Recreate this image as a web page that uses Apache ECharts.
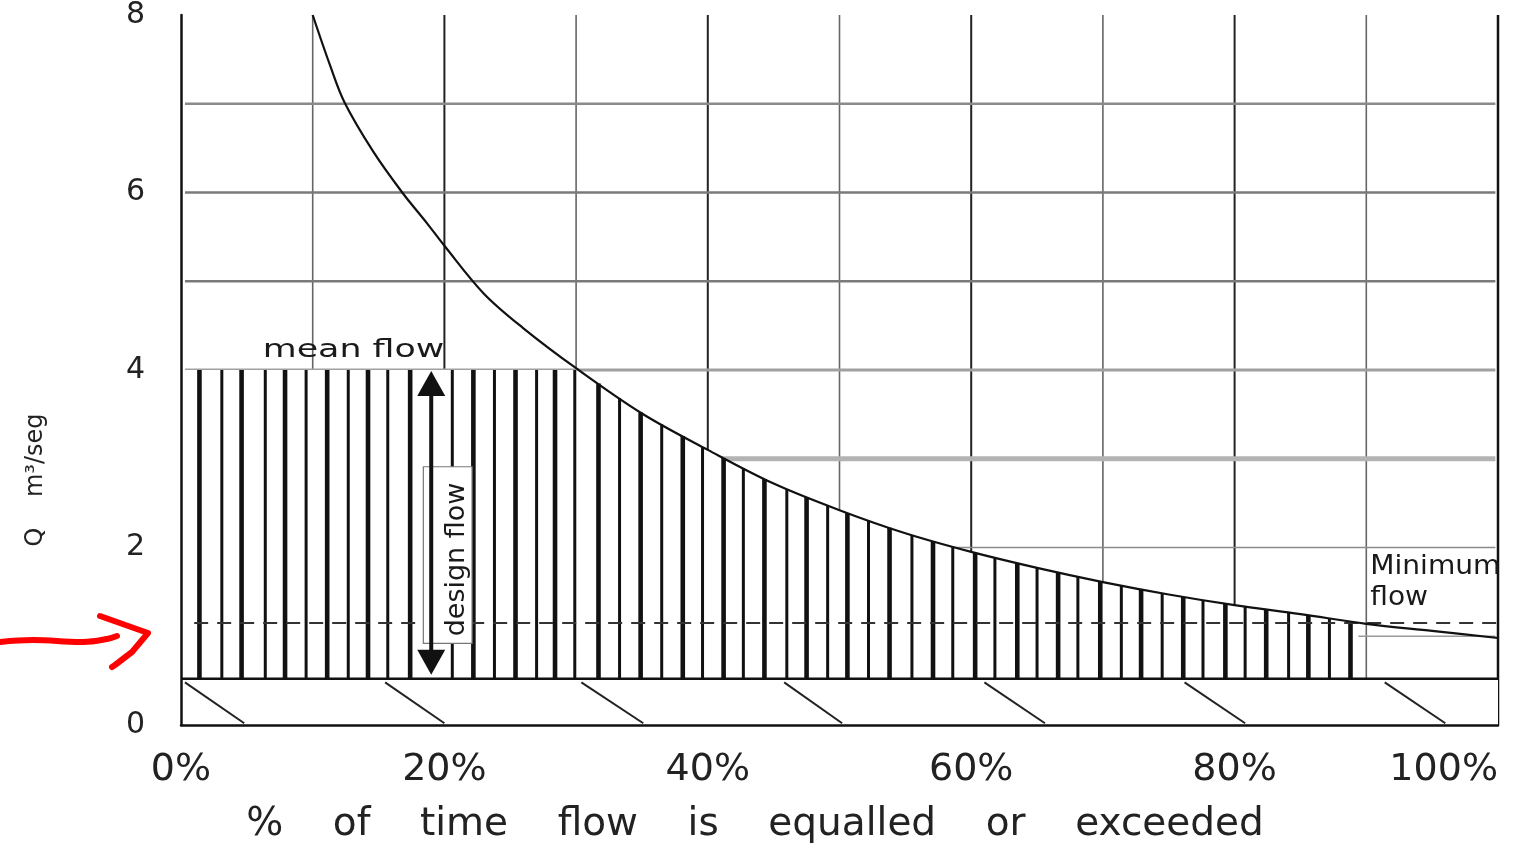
<!DOCTYPE html>
<html><head><meta charset="utf-8">
<script src="https://cdn.jsdelivr.net/npm/echarts@6/dist/echarts.min.js"></script>
<style>html,body{margin:0;padding:0;background:#fff}#c{width:1522px;height:849px}</style>
</head><body><div id="c"></div>
<script>
// ---- data ----
const curveX = [10, 11.3, 12.4, 14.6, 16.8, 18.7, 20, 23, 26, 30, 35, 40, 45, 50, 55, 60, 65, 70, 75, 80, 85, 90, 95, 100];
const curveQ = [8.0, 7.44, 7.02, 6.46, 6.0, 5.65, 5.4, 4.86, 4.47, 4.02, 3.51, 3.1, 2.72, 2.42, 2.16, 1.95, 1.77, 1.61, 1.47, 1.35, 1.25, 1.14, 1.06, 0.98];
const meanFlow = 4.0;
const baseFlow = 0.52;
const minFlow = 1.15;
const designFlowX = 19.0;
const hatchX = [1.4, 3.1, 4.6, 6.4, 7.9, 9.5, 11.1, 12.7, 14.2, 15.7, 17.4, 20.6, 22.2, 23.8, 25.4, 27.0, 28.4, 29.9, 31.7, 33.3, 34.9, 36.5, 38.1, 39.6, 41.2, 42.7, 44.3, 46.0, 47.5, 49.1, 50.6, 52.2, 53.8, 55.5, 57.1, 58.6, 60.3, 61.8, 63.5, 65.0, 66.6, 68.1, 69.8, 71.4, 72.9, 74.5, 76.1, 77.6, 79.3, 80.8, 82.4, 84.1, 85.6, 87.2, 88.8];
const hatchEnd = 89.4;
const breakStartX = [0.3, 15.5, 30.4, 45.8, 61.0, 76.2, 91.4];
const breakEndX = [4.8, 20.0, 35.1, 50.2, 65.6, 80.8, 96.0];
const xGrid = [10, 20, 30, 40, 50, 60, 70, 80, 90, 100];
const yGrid = [1, 2, 3, 4, 5, 6, 7];
const xTickLabels = ['0%', '20%', '40%', '60%', '80%', '100%'];
const yTickLabels = ['0', '2', '4', '6', '8'];
const xTitle = '%    of    time    flow    is    equalled    or    exceeded';
const yTitle = 'Q    m³/seg';
const labelMean = 'mean flow';
const labelDesign = 'design flow';
const labelMinimum = 'Minimum\nflow';

const FONT = "'DejaVu Sans', Verdana, sans-serif";

function curveAt(x) {
  if (x < curveX[0]) return Infinity;
  for (let i = 1; i < curveX.length; i++) {
    if (x <= curveX[i]) {
      const t = (x - curveX[i - 1]) / (curveX[i] - curveX[i - 1]);
      return curveQ[i - 1] + t * (curveQ[i] - curveQ[i - 1]);
    }
  }
  return curveQ[curveQ.length - 1];
}

const vGridStyle = v => (v % 20 === 0) ? { stroke: v === 100 ? '#111' : '#222', lineWidth: v === 100 ? 2.5 : 2 } : { stroke: '#666', lineWidth: 1.6 };
const hGridStyle = v => ({
  1: { stroke: '#9a9a9a', lineWidth: 1.5 }, 2: { stroke: '#8a8a8a', lineWidth: 1.5 },
  3: { stroke: '#b3b3b3', lineWidth: 5 }, 4: { stroke: '#a0a0a0', lineWidth: 3 },
  5: { stroke: '#7a7a7a', lineWidth: 2.5 }, 6: { stroke: '#7a7a7a', lineWidth: 2.5 },
  7: { stroke: '#8a8a8a', lineWidth: 2.5 }
}[v]);

const chart = echarts.init(document.getElementById('c'), null, { renderer: 'canvas' });

const option = {
  backgroundColor: '#fff',
  animation: false,
  grid: { left: 181, right: 24, top: 15, bottom: 124, containLabel: false, outerBoundsMode: 'none' },
  xAxis: {
    type: 'value', min: 0, max: 100, interval: 20, z: 10,
    axisLine: { show: true, lineStyle: { color: '#111', width: 2.5 } },
    axisTick: { show: false }, splitLine: { show: false },
    axisLabel: {
      fontSize: 38, fontFamily: FONT, color: '#222', margin: 26, alignMaxLabel: 'right',
      formatter: v => xTickLabels[Math.round(v / 20)]
    },
    name: xTitle, nameLocation: 'middle', nameGap: 80,
    nameTextStyle: { fontSize: 39, fontFamily: FONT, color: '#222', padding: [0, 169, 0, 0] }
  },
  yAxis: {
    type: 'value', min: 0, max: 8, interval: 2, z: 10,
    axisLine: { show: true, lineStyle: { color: '#111', width: 2.5 } },
    axisTick: { show: false }, splitLine: { show: false },
    axisLabel: {
      fontSize: 30, fontFamily: FONT, color: '#222', margin: 36,
      formatter: v => yTickLabels[Math.round(v / 2)]
    },
    name: yTitle, nameLocation: 'middle', nameRotate: 90, nameGap: 133,
    nameTextStyle: { fontSize: 24, fontFamily: FONT, color: '#222', padding: [0, 220, 0, 0] }
  },
  graphic: [
    { type: 'polyline', z: 100, shape: { points: [[0, 642], [33, 640], [83, 642], [107, 639], [117, 636]], smooth: 0.4 },
      style: { stroke: '#ff0000', lineWidth: 6, lineCap: 'round', lineJoin: 'round', fill: null } },
    { type: 'polyline', z: 100, shape: { points: [[100, 616], [148, 633], [132, 652], [115, 665], [112, 667]] },
      style: { stroke: '#ff0000', lineWidth: 6, lineCap: 'round', lineJoin: 'round', fill: null } }
  ],
  series: [
    { // vertical grid
      type: 'custom', z: 1, silent: true, clip: false,
      data: xGrid.map(v => [v, 0]),
      renderItem: (p, api) => {
        const v = api.value(0);
        const a = api.coord([v, 0]), b = api.coord([v, 8]);
        return { type: 'line', shape: { x1: a[0], y1: a[1], x2: b[0], y2: b[1] }, style: vGridStyle(v) };
      }
    },
    { // horizontal grid
      type: 'custom', z: 1, silent: true, clip: false,
      data: yGrid.map(v => [0, v]),
      renderItem: (p, api) => {
        const v = api.value(1);
        const a = api.coord([0.3, v]), b = api.coord([99.8, v]);
        return { type: 'line', shape: { x1: a[0], y1: a[1], x2: b[0], y2: b[1] }, style: hGridStyle(v) };
      }
    },
    { // white cover under the hatched area and the bottom strip
      type: 'custom', z: 2, silent: true, clip: false,
      data: [[0, 0]],
      renderItem: (p, api) => {
        const pts = [api.coord([0, baseFlow]), api.coord([0, meanFlow])];
        curveX.forEach((x, i) => { if (x < hatchEnd) pts.push(api.coord([x, Math.min(meanFlow, curveQ[i])])); });
        pts.push(api.coord([hatchEnd, Math.min(meanFlow, curveAt(hatchEnd))]));
        pts.push(api.coord([hatchEnd, baseFlow]));
        const s0 = api.coord([0, 0]), s1 = api.coord([100, baseFlow]);
        return { type: 'group', children: [
          { type: 'polygon', shape: { points: pts }, style: { fill: '#fff', stroke: null } },
          { type: 'rect', shape: { x: s0[0], y: s1[1], width: s1[0] - s0[0], height: s0[1] - s1[1] }, style: { fill: '#fff' } }
        ] };
      }
    },
    { // hatch bars
      type: 'custom', z: 3, silent: true, clip: false,
      data: hatchX.map(x => [x, baseFlow]),
      renderItem: (p, api) => {
        const x = api.value(0);
        const top = Math.min(meanFlow, curveAt(x));
        const a = api.coord([x, baseFlow]), b = api.coord([x, top]);
        return { type: 'line', shape: { x1: a[0], y1: a[1], x2: b[0], y2: b[1] },
          style: { stroke: '#111', lineWidth: p.dataIndex % 2 ? 3 : 4.6 } };
      }
    },
    { // base line of the usable area
      type: 'line', z: 4, silent: true, symbol: 'none',
      data: [[0, baseFlow], [100, baseFlow]],
      lineStyle: { color: '#111', width: 2.5 }
    },
    { // axis break marks
      type: 'custom', z: 4, silent: true, clip: false,
      data: breakStartX.map((x, i) => [x, breakEndX[i]]),
      renderItem: (p, api) => {
        const a = api.coord([api.value(0), baseFlow - 0.04]), b = api.coord([api.value(1), 0.02]);
        return { type: 'line', shape: { x1: a[0], y1: a[1], x2: b[0], y2: b[1] }, style: { stroke: '#222', lineWidth: 2 } };
      }
    },
    { // minimum flow dashed line
      type: 'line', z: 5, silent: true, symbol: 'none',
      data: [[1, minFlow], [100, minFlow]],
      lineStyle: { color: '#333', width: 2, type: [14, 9] }
    },
    { // flow duration curve
      type: 'line', z: 6, silent: true, symbol: 'none', smooth: 0.35,
      data: curveX.map((x, i) => [x, curveQ[i]]),
      lineStyle: { color: '#111', width: 2.2 }
    },
    { // annotations
      type: 'custom', z: 7, silent: true, clip: false,
      data: [[designFlowX, meanFlow]],
      renderItem: (p, api) => {
        const tip1 = api.coord([designFlowX, meanFlow]);
        const tip2 = api.coord([designFlowX, baseFlow]);
        const b0 = api.coord([18.4, 2.91]), b1 = api.coord([22.1, 0.92]);
        const dt = api.coord([20.96, 1.865]);
        const mt = api.coord([13.1, 4.22]);
        const nt = api.coord([90.3, 1.6]);
        return { type: 'group', children: [
          { type: 'rect', shape: { x: b0[0], y: b0[1], width: b1[0] - b0[0], height: b1[1] - b0[1] },
            style: { fill: '#fff', stroke: '#777', lineWidth: 1.2 } },
          { type: 'line', shape: { x1: tip1[0], y1: tip1[1] + 20, x2: tip2[0], y2: tip2[1] - 20 },
            style: { stroke: '#111', lineWidth: 4 } },
          { type: 'polygon', shape: { points: [[tip1[0], tip1[1] + 1], [tip1[0] - 14, tip1[1] + 26], [tip1[0] + 14, tip1[1] + 26]] },
            style: { fill: '#111' } },
          { type: 'polygon', shape: { points: [[tip2[0], tip2[1] - 4], [tip2[0] - 14, tip2[1] - 29], [tip2[0] + 14, tip2[1] - 29]] },
            style: { fill: '#111' } },
          { type: 'text', x: dt[0], y: dt[1], rotation: Math.PI / 2,
            style: { text: labelDesign, fill: '#1a1a1a', fontSize: 27, fontFamily: FONT, align: 'center', verticalAlign: 'middle' } },
          { type: 'text', x: mt[0], y: mt[1], scaleX: 1.45,
            style: { text: labelMean, fill: '#1a1a1a', fontSize: 24, fontFamily: FONT, align: 'center', verticalAlign: 'middle' } },
          { type: 'text', x: nt[0], y: nt[1], scaleX: 1.08,
            style: { text: labelMinimum, fill: '#1a1a1a', fontSize: 26, fontFamily: FONT, align: 'left', verticalAlign: 'middle', lineHeight: 31 } }
        ] };
      }
    }
  ]
};
chart.setOption(option);
</script>
</body></html>
